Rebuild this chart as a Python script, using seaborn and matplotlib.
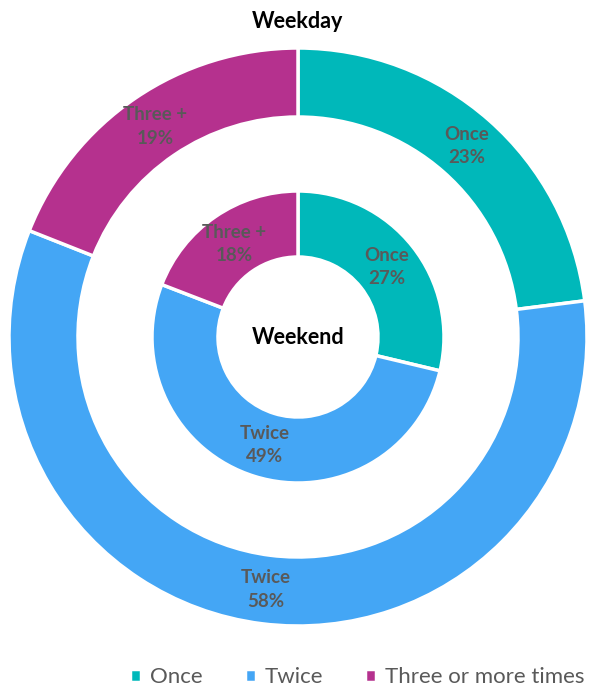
import matplotlib
matplotlib.use("Agg")
import matplotlib.pyplot as plt
import seaborn as sns

# data
categories = ["Once", "Twice", "Three or more times"]
short_labels = ["Once", "Twice", "Three +"]
weekday = [23, 58, 19]
weekend = [27, 49, 18]

sns.set_theme(style="white")
plt.rcParams["font.family"] = ["Lato", "DejaVu Sans"]

colors = ["#00B8BA", "#44A6F5", "#B5318E"]

fig = plt.figure(figsize=(5.93, 6.95), dpi=100)
ax = fig.add_axes([0, 0, 1, 1])

# pixel-like data units: centre of the rings at (298, 337) from top-left
r_out, w_out = 289, 69
r_in, w_in = 146, 66

def ring(values, radius, width):
    labels = [f"{n}\n{v}%" for n, v in zip(short_labels, values)]
    wedges, texts = ax.pie(values, radius=radius, colors=colors, startangle=90,
                           counterclock=False, labels=labels,
                           labeldistance=(radius - width / 2) / radius,
                           wedgeprops=dict(width=width, edgecolor="white", linewidth=2.5),
                           textprops=dict(color="#595959", fontsize=13.5, fontweight="bold"))
    for t in texts:
        t.set_ha("center")
        t.set_va("center")
        t.set_linespacing(1.45)
    return wedges

wedges = ring(weekday, r_out, w_out)
ring(weekend, r_in, w_in)

ax.set_xlim(-298, 593 - 298)
ax.set_ylim(-(695 - 337), 337)
ax.set_aspect("equal")
ax.axis("off")

ax.text(0, 337 - 21, "Weekday", ha="center", va="center", fontsize=15.5, fontweight="bold", color="black")
ax.text(0, -1, "Weekend", ha="center", va="center", fontsize=15.5, fontweight="bold", color="black")

ax.legend(wedges, categories, loc="lower right", bbox_to_anchor=(1.005, -0.005), ncol=3,
          frameon=False, fontsize=16, handlelength=0.5, handleheight=0.5,
          handletextpad=0.4, columnspacing=1.9, labelcolor="#595959",
          borderaxespad=0.1)

fig.savefig("out.png", dpi=100)
